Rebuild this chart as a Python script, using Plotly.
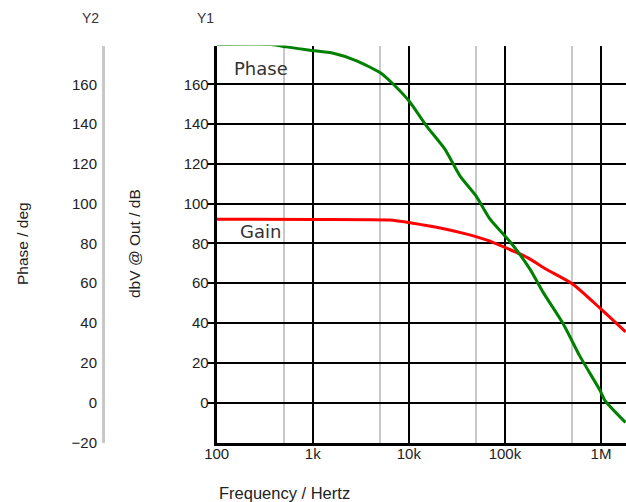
import plotly.graph_objects as go

# ---- data ----
freq_gain = [100, 1000, 6300, 11000, 20000, 40000, 64000, 100000, 170000, 270000, 510000, 1000000, 1800000]
gain_db = [92.2, 92.1, 91.8, 90.2, 88.0, 84.7, 81.8, 78.0, 73.0, 67.0, 59.5, 47.0, 35.6]

freq_phase = [100, 370, 533, 935, 1640, 2860, 5000, 6600, 10000, 15300, 23700, 34000, 50000,
              70000, 117000, 182000, 250000, 406000, 600000, 980000, 1100000, 1800000]
phase_deg = [180, 180, 178.8, 177.1, 175.6, 171.8, 165.9, 160.9, 151.7, 139.0, 127.4, 114.0, 103.9,
             92.2, 80.0, 67.1, 55.4, 39.4, 23.5, 6.0, 1.0, -10.0]

x_tickvals = [100, 1000, 10000, 100000, 1000000]
x_ticktext = ["100", "1k", "10k", "100k", "1M"]
x_minor = [500, 5000, 50000, 500000]
y1_ticks = [0, 20, 40, 60, 80, 100, 120, 140, 160]
y2_ticks = [-20, 0, 20, 40, 60, 80, 100, 120, 140, 160]

W, H = 626, 502
def px(x):
    return x / W
def py(y):
    return 1 - y / H

SANS = "Liberation Sans, Arial, sans-serif"
LBL = "DejaVu Sans, Verdana, sans-serif"

fig = go.Figure()
fig.add_trace(go.Scatter(x=freq_gain, y=gain_db, mode="lines", name="Gain",
                         line=dict(color="#ff0000", width=3, shape="spline", smoothing=0.6),
                         yaxis="y"))
fig.add_trace(go.Scatter(x=freq_phase, y=phase_deg, mode="lines", name="Phase",
                         line=dict(color="#008000", width=3, shape="spline", smoothing=0.6),
                         yaxis="y2"))

yrange = [-20.05, 179.5]
ydom = [py(442.5), py(45.5)]

fig.update_layout(
    width=W, height=H,
    margin=dict(l=0, r=0, t=0, b=0, autoexpand=False),
    paper_bgcolor="white", plot_bgcolor="white",
    showlegend=False,
    font=dict(family=SANS, size=15, color="#222"),
    xaxis=dict(
        type="log", range=[2, 6.26], domain=[px(216.7), 1.0], automargin=False,
        tickmode="array", tickvals=x_tickvals, ticktext=x_ticktext,
        showgrid=True, gridcolor="black", gridwidth=1.5,
        minor=dict(tickmode="array", tickvals=x_minor, showgrid=True,
                   gridcolor="#c8c8c8", gridwidth=1.5, ticks=""),
        showline=True, linecolor="black", linewidth=3,
        ticks="", zeroline=False, ticklabelstandoff=-5,
        tickfont=dict(family=SANS, size=15, color="#222"),
    ),
    yaxis=dict(
        range=yrange, domain=ydom, automargin=False,
        tickmode="array", tickvals=y1_ticks,
        showgrid=True, gridcolor="black", gridwidth=1.5,
        showline=True, linecolor="black", linewidth=3,
        ticks="outside", ticklen=7, tickwidth=1.5, tickcolor="black",
        ticklabelstandoff=-5,
        zeroline=False,
        tickfont=dict(family=SANS, size=15, color="#222"),
    ),
    yaxis2=dict(
        range=yrange, overlaying="y", anchor="free", position=px(103), side="left",
        automargin=False,
        tickmode="array", tickvals=y2_ticks,
        showgrid=False, showline=True, linecolor="#c8c8c8", linewidth=3,
        ticks="", zeroline=False, ticklabelstandoff=2,
        tickfont=dict(family=SANS, size=15, color="#222"),
    ),
)

annotations = [
    dict(text="Y2", x=px(90), y=py(18), xanchor="center", yanchor="middle",
         font=dict(family=SANS, size=14, color="#333")),
    dict(text="Y1", x=px(205), y=py(18), xanchor="center", yanchor="middle",
         font=dict(family=SANS, size=14, color="#333")),
    dict(text="Phase / deg", x=px(22), y=py(244), xanchor="center", yanchor="middle",
         textangle=-90, font=dict(family=SANS, size=15.5, color="#222")),
    dict(text="dbV @ Out / dB", x=px(134), y=py(244), xanchor="center", yanchor="middle",
         textangle=-90, font=dict(family=SANS, size=15.5, color="#222")),
    dict(text="Frequency / Hertz", x=px(217), y=py(493), xanchor="left", yanchor="middle",
         font=dict(family=SANS, size=16.5, color="#222")),
    dict(text="Phase", x=px(232), y=py(68), xanchor="left", yanchor="middle",
         font=dict(family=LBL, size=18, color="#333")),
    dict(text="Gain", x=px(238), y=py(231.5), xanchor="left", yanchor="middle",
         font=dict(family=LBL, size=18, color="#333")),
]
for a in annotations:
    a.update(xref="paper", yref="paper", showarrow=False)
fig.update_layout(annotations=annotations)

fig.write_html("out.html", config={"displayModeBar": False},
               post_script="document.body.style.margin='0';document.body.style.padding='0';")
